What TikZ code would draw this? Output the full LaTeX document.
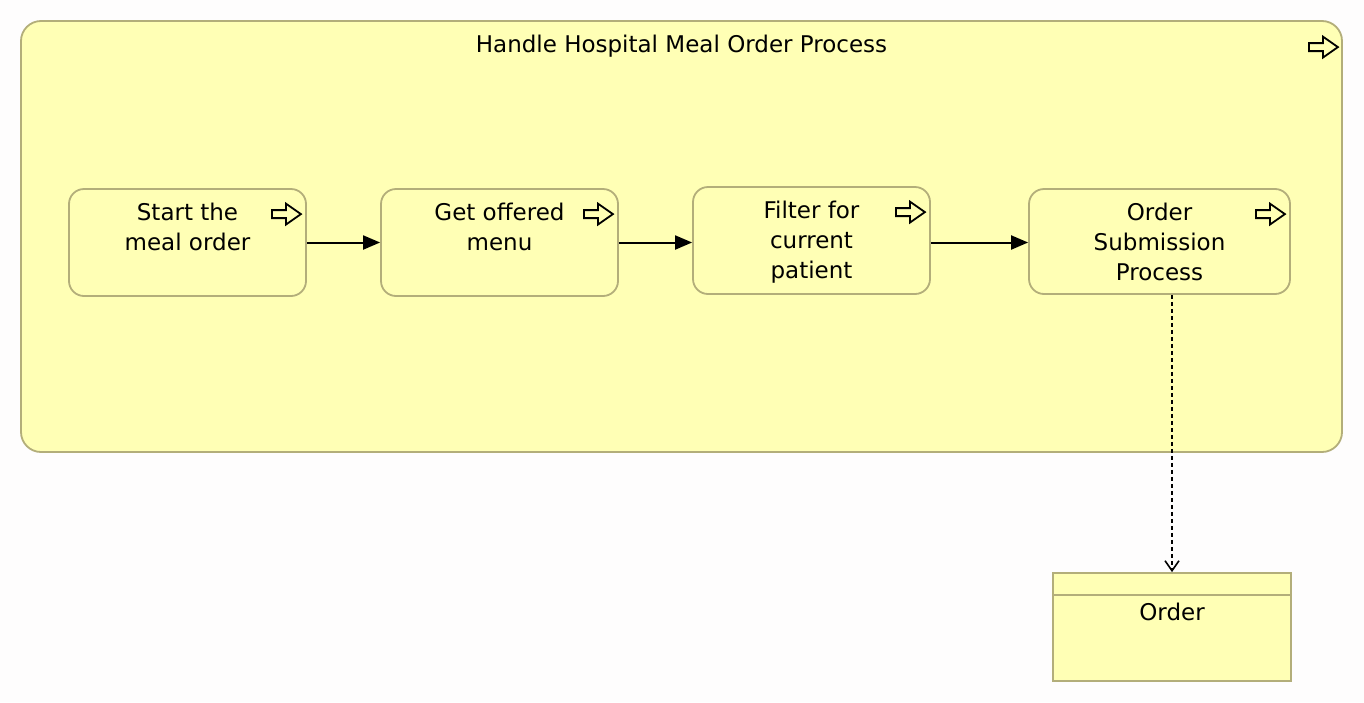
\documentclass[tikz,border=0pt]{standalone}
\usepackage{fontspec}
\setmainfont{DejaVu Sans}
\usetikzlibrary{positioning,arrows.meta,calc}
\definecolor{procfill}{HTML}{FFFFB5}
\definecolor{procline}{HTML}{B3AE7A}
\definecolor{paper}{HTML}{FEFDFD}
% outlined process arrow, #1 is the tip
\newcommand{\procicon}[1]{\draw[icon] (#1) -- ++(-7.5pt,5.25pt) -- ++(0,-3.25pt) -- ++(-7pt,0) -- ++(0,-4pt) -- ++(7pt,0) -- ++(0,-3.25pt) -- cycle;}

\begin{document}
\begin{tikzpicture}[x=0.5pt, y=-0.5pt, >=Latex, font=\fontsize{11.5}{15}\selectfont,
    procbox/.style={draw=procline, fill=procfill, line width=0.9pt, rounded corners=7.5pt,
      minimum width=118.5pt, minimum height=53.5pt, inner sep=0pt},
    lbl/.style={align=center, inner sep=0pt, anchor=north},
    icon/.style={draw=black, line width=0.9pt, line join=miter},
    flow/.style={-{Triangle[length=8.5pt,width=7pt]}, line width=1pt},
    access/.style={-{Straight Barb[length=5pt,width=7pt]}, line width=0.8pt, dash pattern=on 2pt off 1.5pt}]
  \fill[paper] (0,0) rectangle (1364,702);

  % container
  \node[procbox, minimum width=660.5pt, minimum height=215.5pt, rounded corners=10pt] (main) at (681.5,236.5) {};
  \node[lbl] (mainlbl) at ($(main.north)+(0,-7.5pt)$) {Handle Hospital Meal Order Process};
  \procicon{$(main.north east)+(-2.5pt,-13.5pt)$}

  % steps
  \node[procbox] (s1) at (187.5,242.5) {};
  \node[procbox] (s2) at (499.5,242.5) {};
  \node[procbox] (s3) at (811.5,240.5) {};
  \node[procbox, minimum width=130.5pt, minimum height=52.5pt] (s4) at (1159.5,241.5) {};
  \node[lbl] at ($(s1.north)+(0,-7.5pt)$) {Start the\\meal order};
  \node[lbl] at ($(s2.north)+(0,-7.5pt)$) {Get offered\\menu};
  \node[lbl] at ($(s3.north)+(0,-7.5pt)$) {Filter for\\current\\patient};
  \node[lbl] at ($(s4.north)+(0,-7.5pt)$) {Order\\Submission\\Process};
  \foreach \s in {s1,s2,s3,s4}{
    \procicon{$(\s.north east)+(-3pt,-13pt)$}
  }

  % data object
  \node[procbox, rounded corners=0pt, minimum width=119pt, minimum height=54pt] (ord) at (1172,627) {};
  \draw[procline, line width=0.9pt] ($(ord.north west)+(0,-11.5pt)$) -- ($(ord.north east)+(0,-11.5pt)$);
  \node[lbl] at ($(ord.north)+(0,-15.5pt)$) {Order};

  \draw[flow] (s1.east) -- (s2.west);
  \draw[flow] (s2.east) -- (s2.east -| s3.west);
  \draw[flow] (s3.east |- s2.east) -- (s2.east -| s4.west);
  \draw[access] (s4.south -| ord.north) -- (ord.north);
\end{tikzpicture}
\end{document}
